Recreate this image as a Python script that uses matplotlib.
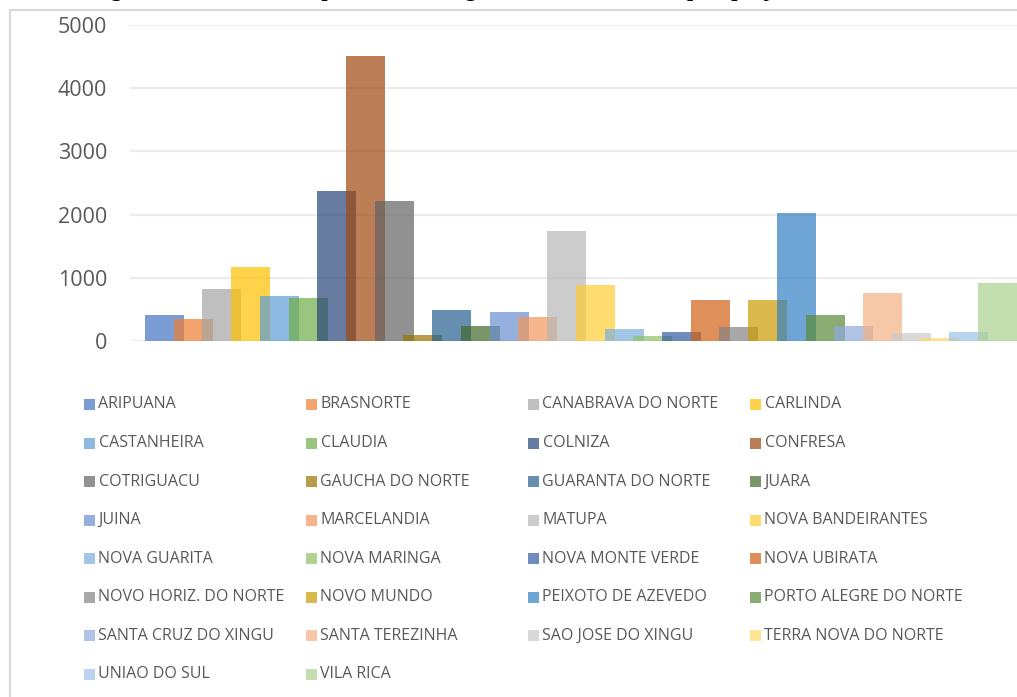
import matplotlib
matplotlib.use("Agg")
import matplotlib.pyplot as plt
import numpy as np
from matplotlib.patches import Rectangle
from matplotlib.lines import Line2D

municipios = [
    "ARIPUANA", "BRASNORTE", "CANABRAVA DO NORTE", "CARLINDA",
    "CASTANHEIRA", "CLAUDIA", "COLNIZA", "CONFRESA",
    "COTRIGUACU", "GAUCHA DO NORTE", "GUARANTA DO NORTE", "JUARA",
    "JUINA", "MARCELANDIA", "MATUPA", "NOVA BANDEIRANTES",
    "NOVA GUARITA", "NOVA MARINGA", "NOVA MONTE VERDE", "NOVA UBIRATA",
    "NOVO HORIZ. DO NORTE", "NOVO MUNDO", "PEIXOTO DE AZEVEDO", "PORTO ALEGRE DO NORTE",
    "SANTA CRUZ DO XINGU", "SANTA TEREZINHA", "SAO JOSE DO XINGU", "TERRA NOVA DO NORTE",
    "UNIAO DO SUL", "VILA RICA",
]
valores = [
    410, 345, 820, 1170,
    710, 675, 2370, 4510,
    2210, 90, 485, 235,
    455, 375, 1740, 880,
    185, 75, 140, 645,
    215, 645, 2020, 410,
    235, 755, 120, 45,
    138, 915,
]
cores = [
    "#4472C4", "#ED7D31", "#A5A5A5", "#FFC000", "#5B9BD5", "#70AD47",
    "#264478", "#9E480E", "#636363", "#997300", "#255E91", "#43682B",
    "#698ED0", "#F1975A", "#B7B7B7", "#FFCD33", "#7CAFDD", "#8CC168",
    "#335AA1", "#D26012", "#848484", "#CC9A00", "#327FC3", "#5A8A39",
    "#8FAADC", "#F4B183", "#C9C9C9", "#FFD966", "#9DC3E6", "#A9D18E",
]
yticks = [0, 1000, 2000, 3000, 4000, 5000]
titulo_inicio = "Figura 4 – Mão de obra por local de origem dos trabalhadores "
titulo_fim = "por  projeto"

W, H = 1017, 697
fig = plt.figure(figsize=(W / 100, H / 100), dpi=100)
fig.patch.set_facecolor("white")


def fx(px):
    return px / W


def fy(py):
    return 1 - py / H


step = 28.72
ax = fig.add_axes([fx(130), fy(341), fx(1032) - fx(130), fy(25) - fy(341)])
x = np.arange(len(valores))
ax.bar(x, valores, width=39 / step, color=cores, alpha=0.7, linewidth=0, zorder=2)
ax.set_xlim(-(164.5 - 130) / step, (1032 - 164.5) / step)
ax.set_ylim(0, 5000)
ax.set_yticks(yticks)
ax.set_yticklabels([str(v) for v in yticks], family="Open Sans", fontsize=15.5, color="#595959")
ax.set_xticks([])
ax.tick_params(axis="y", length=0, pad=16.5)
ax.yaxis.grid(True, color="#ECECEC", lw=1.6, zorder=0)
ax.set_axisbelow(True)
for s in ax.spines.values():
    s.set_visible(False)
ax.set_facecolor("none")

# legend (4 columns x 8 rows)
for i, (nome, cor) in enumerate(zip(municipios, cores)):
    row, col = divmod(i, 4)
    px = 84 + col * 222
    py = 404.5 + row * 38.57
    fig.add_artist(Rectangle((fx(px), fy(py + 5.5)), 11 / W, 11 / H,
                             transform=fig.transFigure, facecolor=cor, alpha=0.7, lw=0))
    fig.text(fx(px + 14.5), fy(py), nome, family="Open Sans", fontsize=11.5,
             color="#595959", va="center", ha="left")

# outer frame
fig.add_artist(Line2D([fx(10), fx(10)], [fy(10), 0], transform=fig.transFigure,
                      color="#D9D9D9", lw=1.5))
fig.add_artist(Line2D([fx(10), 1], [fy(10), fy(10)], transform=fig.transFigure,
                      color="#D9D9D9", lw=1.5))

# cut-off caption above the chart (only the descenders remain visible)
tkw = dict(family="Liberation Serif", weight="bold", fontsize=16, color="black",
           va="baseline")
renderer = fig.canvas.get_renderer()
probe = fig.text(0, 0, titulo_inicio.replace(" ", "\u00a0"), **tkw)
w_inicio = probe.get_window_extent(renderer).width
probe.remove()
fig.text(fx(687 - w_inicio), fy(-4), titulo_inicio + titulo_fim, **tkw)

fig.savefig("out.png", dpi=100)
